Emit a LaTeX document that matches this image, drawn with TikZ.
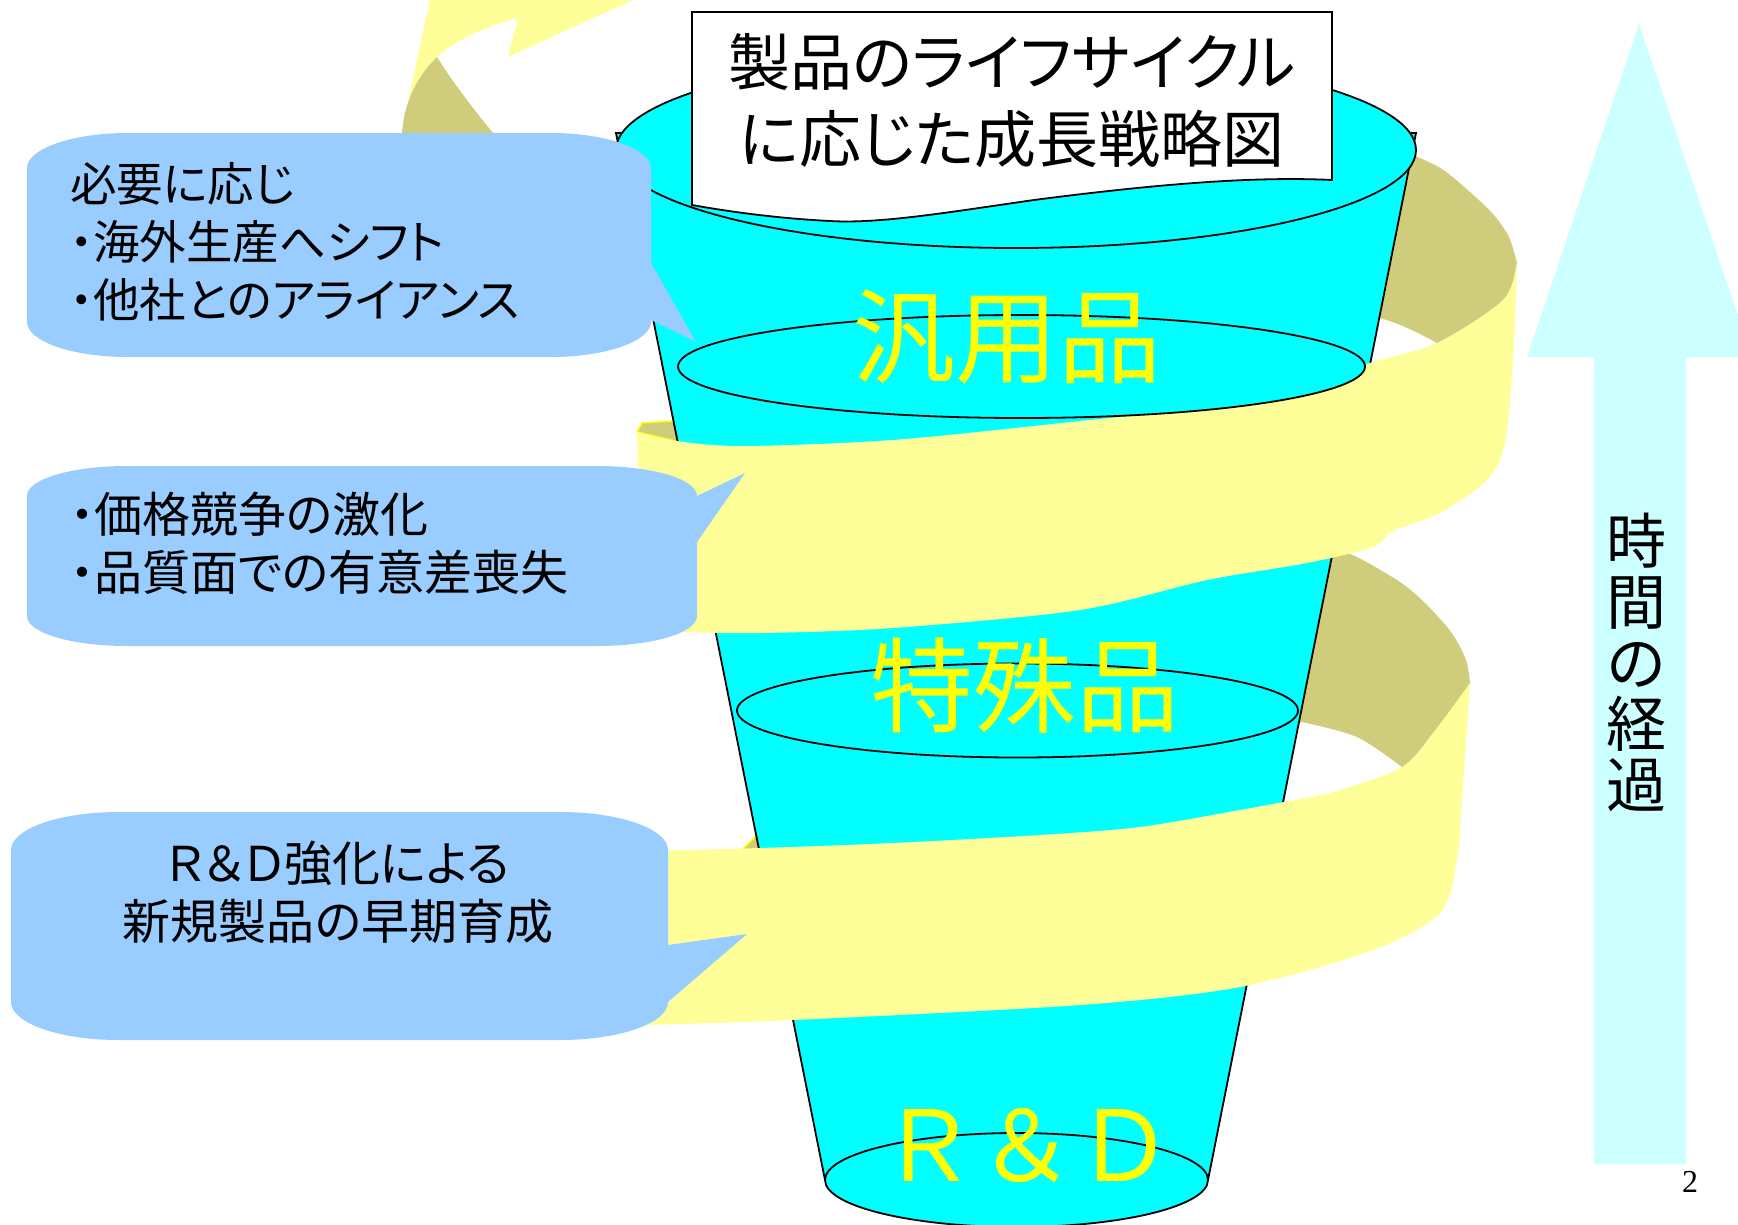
\documentclass[tikz,border=0pt]{standalone}
\usepackage{fontspec}
\newfontfamily\jpp[RawFeature=+palt]{Noto Sans CJK JP}
\newfontfamily\jpw{Noto Sans CJK JP}
\newfontfamily\numfont{Liberation Serif}
\definecolor{cyanF}{HTML}{00FFFF}
\definecolor{bandY}{HTML}{FFFF99}
\definecolor{bandO}{HTML}{CFCD7C}
\definecolor{callB}{HTML}{99CCFF}
\definecolor{arrowC}{HTML}{CCFFFF}
\definecolor{labY}{HTML}{FFFF00}
\begin{document}
\begin{tikzpicture}[x=1pt,y=-1pt,
  outl/.style={draw=black,line width=1.8pt},
  funnelfill/.style={fill=cyanF,outl},
  bandfill/.style={fill=bandY},
  backfill/.style={fill=bandO},
  callfill/.style={fill=callB},
  calltext/.style={font=\jpp\fontsize{48}{58}\selectfont,inner sep=0pt},
  lab/.style={font=\jpw\fontsize{103}{103}\selectfont,text=labY,inner sep=0pt}]
\useasboundingbox (0,0) rectangle (1738,1224);
\clip (0,0) rectangle (1738,1224);

% ---- top-left end of the spiral (arrow head) ----
\fill[bandfill] (433,-15) -- (666,-15) -- (508,57) -- (518,18)
  .. controls (490,25) and (455,40) .. (437,57)
  .. controls (415,78) and (405,105) .. (403,125) -- cycle;
\fill[backfill] (437,57) .. controls (450,78) and (470,105) .. (493,133)
  -- (500,145) -- (400,145) -- (403,125)
  .. controls (405,105) and (415,78) .. (437,57) -- cycle;

% ---- back (inside) parts of the spiral ----
\fill[backfill] (1395,155) -- plot[smooth] coordinates {(1413,155) (1442,169) (1470,192) (1493,214) (1509,237) (1517,263)}
  -- (1505,320) -- (1440,355) -- (1437,343)
  .. controls (1415,331) and (1398,323) .. (1380,318) -- (1360,318) -- cycle;
\fill[backfill] (1300,560) -- plot[smooth] coordinates {(1325,545) (1357,557) (1400,582) (1425,603) (1451,632) (1466,660) (1470,683)}
  -- (1462,720) -- (1410,775) -- (1402,767)
  -- plot[smooth] coordinates {(1402,767) (1357,737) (1302,722)} -- (1290,722) -- cycle;
\filldraw[fill=bandO,draw=labY,line width=1.5pt] (742,850) -- (757,835) -- (770,850) -- cycle;
\filldraw[fill=bandO,draw=labY,line width=1.5pt] (642,423) -- (673,421) -- (680,442) -- (637,432) -- cycle;

% ---- funnel ----
\filldraw[funnelfill] (616,133) -- (1416,133) -- (1208,1180) -- (825,1180) -- cycle;
\filldraw[funnelfill] (1016,150) ellipse [x radius=400, y radius=98];
\filldraw[funnelfill] (1016.5,1180) ellipse [x radius=191.5, y radius=47];

% ---- front parts of the spiral ----
\fill[bandfill] plot[smooth] coordinates {(637,432) (677,441) (743,446) (893,440) (1080,421) (1207,407) (1300,386) (1373,362) (1437,343) (1503,300) (1517,263)}
  -- plot[smooth] coordinates {(1517,263) (1513,360) (1505,443) (1487,480) (1440,513) (1393,531) (1373,547) (1307,563) (1207,580) (1080,610) (893,628) (763,633) (677,632) (642,630)}
  -- cycle;
\fill[bandfill] plot[smooth] coordinates {(645,851) (760,848) (893,843) (1040,835) (1140,827) (1240,810) (1310,797) (1340,790) (1402,767) (1433,733) (1470,683)}
  -- plot[smooth] coordinates {(1470,683) (1462,800) (1457,860) (1440,913) (1373,950) (1240,987) (1080,1005) (793,1020) (645,1025)}
  -- cycle;

\filldraw[funnelfill] (1021.5,366.5) ellipse [x radius=343.5, y radius=51.5];
\filldraw[funnelfill] (1017.5,710.5) ellipse [x radius=280.5, y radius=47];

\node[lab] (gen) at (1007,337) {汎用品};
\node[lab] (spec) at (1025,686) {特殊品};
\node[lab,font=\jpw\fontsize{98}{98}\selectfont] (rd) at (1026,1146) {Ｒ＆Ｄ};

% ---- callouts ----
\fill[callfill] (127,133) -- (551,133) .. controls (606,133) and (651,149) .. (651,168)
  -- (651,263) -- (696,342) -- (651,320) -- (651,322)
  .. controls (651,341) and (606,357) .. (551,357) -- (127,357)
  .. controls (72,357) and (27,341) .. (27,322) -- (27,168)
  .. controls (27,149) and (72,133) .. (127,133) -- cycle;
\fill[callfill] (127,466) -- (597,466) .. controls (652,466) and (697,479) .. (697,496)
  -- (745,473) -- (697,542) -- (697,616)
  .. controls (697,633) and (652,646) .. (597,646) -- (127,646)
  .. controls (72,646) and (27,633) .. (27,616) -- (27,496)
  .. controls (27,479) and (72,466) .. (127,466) -- cycle;
\fill[callfill] (119,812) -- (560,812) .. controls (620,812) and (668,829) .. (668,850)
  -- (668,945) -- (747,934) -- (668,1002)
  .. controls (668,1023) and (620,1040) .. (560,1040) -- (119,1040)
  .. controls (59,1040) and (11,1023) .. (11,1002) -- (11,850)
  .. controls (11,829) and (59,812) .. (119,812) -- cycle;

\node[calltext,font=\jpp\fontsize{46.5}{58}\selectfont,align=left,anchor=west] (c1) at (70,242) {必要に応じ\\・海外生産へシフト\\・他社とのアライアンス};
\node[calltext,align=left,anchor=west] (c2) at (70,543) {・価格競争の激化\\・品質面での有意差喪失};
\node[calltext,align=center] (c3) at (338,892) {Ｒ＆Ｄ強化による\\新規製品の早期育成};

% ---- title ----
\filldraw[fill=white,outl] (692,12) -- (1332,12) -- (1332,180)
  .. controls (1250,176) and (1150,185) .. (1034,200)
  .. controls (950,212) and (880,224) .. (830,221)
  .. controls (770,218) and (720,210) .. (692,205) -- cycle;
\node[font=\jpp\fontsize{62}{77}\selectfont,align=center,inner sep=0pt] (title) at (1012,101) {製品のライフサイクル\\に応じた成長戦略図};

% ---- time arrow ----
\fill[fill=arrowC] (1639,24) -- (1752,357) -- (1686,357) -- (1686,1164) -- (1594,1164) -- (1594,357) -- (1527,357) -- cycle;
\node[font=\jpw\fontsize{60}{61}\selectfont,align=center,inner sep=0pt] (time) at (1636,662) {時\\間\\の\\経\\過};
\node[font=\numfont\fontsize{32}{32}\selectfont,inner sep=0pt] (page) at (1690,1182) {2};
\end{tikzpicture}
\end{document}
